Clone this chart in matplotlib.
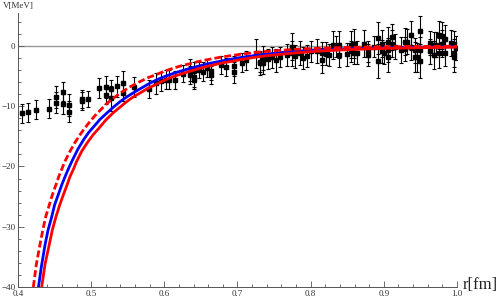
import matplotlib
matplotlib.use("Agg")
import matplotlib.pyplot as plt
from matplotlib.ticker import MultipleLocator, FormatStrFormatter

plt.rcParams['font.family'] = ['Liberation Serif', 'DejaVu Serif']

# lattice data points: r [fm], V [MeV], error [MeV]
r_data = [0.405, 0.414, 0.424, 0.443, 0.452, 0.452, 0.461, 0.461, 0.470, 0.470,
          0.487, 0.487, 0.496, 0.511, 0.520, 0.520, 0.527, 0.527, 0.535, 0.543,
          0.543, 0.558, 0.579, 0.588, 0.595, 0.602, 0.607, 0.614, 0.626, 0.635,
          0.635, 0.640, 0.640, 0.640, 0.647, 0.653, 0.659, 0.664, 0.664, 0.677,
          0.684, 0.695, 0.695, 0.706, 0.712,
          0.725, 0.731, 0.731, 0.735, 0.735, 0.742, 0.747, 0.752, 0.758, 0.768,
          0.774, 0.774, 0.779, 0.785, 0.790, 0.795, 0.800, 0.809, 0.815, 0.815,
          0.821, 0.825, 0.830, 0.834, 0.839, 0.839, 0.850, 0.855, 0.855, 0.859,
          0.859, 0.864, 0.873, 0.878, 0.878, 0.887, 0.892, 0.892, 0.897, 0.897,
          0.900, 0.906, 0.906, 0.906, 0.911, 0.911, 0.915, 0.923, 0.929, 0.929,
          0.932, 0.937, 0.937, 0.942, 0.942, 0.946, 0.950, 0.950, 0.950, 0.963,
          0.963, 0.968, 0.968, 0.971, 0.976, 0.976, 0.980, 0.980, 0.984, 0.984,
          0.992, 0.996, 0.996, 0.996, 0.998]
v_data = [-11.2, -11.0, -10.6, -10.4, -8.5, -9.4, -7.6, -9.6, -9.8, -10.9,
          -8.8, -9.2, -8.8, -7.0, -6.8, -8.1, -7.2, -8.7, -6.7, -6.1,
          -7.8, -6.8, -7.2, -6.2, -5.9, -5.6, -5.6, -5.6, -4.6, -4.0,
          -4.8, -4.1, -5.2, -5.6, -4.0, -4.3, -3.7, -4.1, -4.8, -3.2,
          -3.5, -3.3, -4.4, -2.8, -2.4,
          -1.2, -2.6, -2.9, -2.0, -2.9, -2.2, -1.9, -2.4, -1.8, -1.5,
          -0.1, -1.2, -1.7, -1.2, -2.0, -1.7, -0.9, -0.9, -1.2, -2.4,
          -1.3, -1.5, 0.2, -0.1, 0.2, -1.5, -1.4, 0.2, -0.9, 0.4,
          -1.2, -1.1, 0.4, -0.9, -1.5, -0.1, 1.3, -2.5, 0.4, -0.9,
          -1.2, 0.7, -0.7, -1.9, 1.5, 0.4, -0.1, -0.7, 0.7, -0.5,
          0.7, 1.8, -0.1, -0.7, -1.9, -1.9, 2.4, -0.7, -2.5, 0.5,
          -0.9, 0.2, -1.5, 0.2, 1.8, -1.2, 1.7, 0.4, 1.1, -1.1,
          0.5, 0.4, -1.2, -1.9, -0.4]
v_err = [1.6, 1.6, 1.6, 1.6, 1.8, 1.8, 1.6, 1.7, 1.8, 1.8,
         1.5, 1.5, 1.4, 1.7, 1.8, 1.6, 1.6, 2.1, 1.7, 1.9,
         1.4, 1.7, 1.5, 1.7, 1.6, 1.6, 1.6, 1.5, 1.4, 1.8,
         1.5, 1.5, 1.6, 1.6, 1.4, 1.6, 1.5, 1.5, 1.5, 1.5,
         1.5, 1.7, 1.7, 1.6, 1.6,
         2.4, 1.8, 1.9, 2.0, 1.8, 1.7, 1.8, 1.9, 1.7, 1.8,
         2.3, 2.1, 1.9, 2.0, 1.8, 1.8, 1.7, 2.0, 1.9, 2.1,
         1.9, 1.8, 2.3, 1.8, 2.2, 2.0, 1.9, 2.2, 1.8, 2.4,
         1.8, 1.9, 2.2, 1.8, 1.9, 1.8, 2.7, 2.8, 2.3, 1.9,
         1.8, 2.4, 2.0, 2.4, 2.2, 2.2, 2.0, 2.2, 2.2, 2.0,
         2.1, 2.4, 2.2, 2.1, 2.5, 2.4, 2.5, 2.2, 2.8, 2.0,
         2.1, 2.1, 2.3, 2.1, 2.3, 2.5, 2.2, 2.2, 2.3, 2.2,
         2.2, 2.0, 2.3, 2.4, 2.0]

# fitted potential curves
r_blue = [0.428, 0.432, 0.437, 0.441, 0.446, 0.450, 0.455, 0.460, 0.465, 0.470,
          0.475, 0.482, 0.490, 0.497, 0.505, 0.512, 0.520, 0.530, 0.540, 0.550,
          0.560, 0.570, 0.580, 0.590, 0.600, 0.615, 0.630, 0.645, 0.660, 0.680,
          0.700, 0.720, 0.740, 0.760, 0.780, 0.800, 0.820, 0.840, 0.860, 0.880,
          0.900, 0.925, 0.950, 0.975, 1.000]
v_blue = [-40.0, -36.6, -33.0, -30.6, -28.4, -26.4, -24.7, -23.0, -21.5, -20.1,
          -18.8, -17.1, -15.5, -14.3, -13.2, -12.2, -11.3, -10.2, -9.2, -8.35,
          -7.6, -6.9, -6.2, -5.6, -5.1, -4.45, -3.9, -3.4, -2.95, -2.45,
          -2.0, -1.65, -1.35, -1.1, -0.9, -0.74, -0.6, -0.5, -0.42, -0.36,
          -0.3, -0.25, -0.2, -0.16, -0.12]

r_red_dash = [0.421, 0.425, 0.430, 0.434, 0.438, 0.443, 0.447, 0.452, 0.456, 0.460,
              0.464, 0.471, 0.478, 0.485, 0.4915, 0.498, 0.505, 0.513, 0.521, 0.530,
              0.540, 0.553, 0.567, 0.578, 0.590, 0.600, 0.612, 0.623, 0.635, 0.646,
              0.658, 0.669, 0.680, 0.692, 0.703, 0.720, 0.735, 0.758, 0.780, 0.800,
              0.820, 0.840, 0.860, 0.880, 0.900, 0.925, 0.950, 0.975, 1.000]
v_red_dash = [-40.0, -36.3, -33.0, -30.5, -28.3, -26.3, -24.7, -23.0, -21.6, -20.4,
              -19.2, -17.5, -16.0, -14.7, -13.6, -12.6, -11.6, -10.6, -9.6, -8.7,
              -7.8, -6.8, -5.9, -5.25, -4.7, -4.2, -3.7, -3.3, -2.95, -2.6,
              -2.3, -2.05, -1.8, -1.6, -1.4, -1.15, -0.95, -0.74, -0.55, -0.45,
              -0.35, -0.28, -0.22, -0.18, -0.14, -0.11, -0.08, -0.06, -0.05]

r_red = [0.4324, 0.437, 0.4427, 0.447, 0.452, 0.457, 0.462, 0.467, 0.471, 0.476,
         0.480, 0.487, 0.495, 0.503, 0.511, 0.520, 0.530, 0.539, 0.548, 0.557,
         0.567, 0.578, 0.590, 0.600, 0.612, 0.623, 0.635, 0.646, 0.658, 0.669,
         0.680, 0.692, 0.703, 0.720, 0.735, 0.758, 0.780, 0.800, 0.820, 0.840,
         0.860, 0.880, 0.900, 0.925, 0.950, 0.975, 1.000]
v_red = [-40.0, -36.2, -33.0, -30.5, -28.3, -26.4, -24.7, -23.1, -21.7, -20.4,
         -19.2, -17.5, -16.0, -14.7, -13.6, -12.3, -11.1, -10.2, -9.3, -8.5,
         -7.8, -7.0, -6.3, -5.7, -5.1, -4.65, -4.2, -3.8, -3.4, -3.1,
         -2.8, -2.55, -2.3, -1.95, -1.7, -1.4, -1.15, -0.97, -0.8, -0.68,
         -0.58, -0.49, -0.42, -0.36, -0.3, -0.25, -0.2]

fig = plt.figure(figsize=(4.98, 3.01), dpi=100)
ax = fig.add_axes([0.0361, 0.0465, 0.8815, 0.911])

ax.axhline(0, color='#999999', lw=1.0, zorder=1)

eb = ax.errorbar(r_data, v_data, yerr=v_err, fmt='s', color='black', ms=2.2,
                 elinewidth=0.8, capsize=1.6, capthick=0.8, zorder=3)
for cap in eb[1]:
    cap.set_color('#777777')

ax.plot(r_blue, v_blue, color='blue', lw=2.0, zorder=4)
ax.plot(r_red, v_red, color='red', lw=2.0, zorder=5)
ax.plot(r_red_dash, v_red_dash, color='red', lw=2.0, ls=(0, (2.5, 1.1)), zorder=6)

ax.set_xlim(0.4, 1.0)
ax.set_ylim(-40, 5.5)

for s in ['top', 'right']:
    ax.spines[s].set_visible(False)
for s in ['left', 'bottom']:
    ax.spines[s].set_color('#555555')
    ax.spines[s].set_linewidth(0.7)

ax.xaxis.set_major_locator(MultipleLocator(0.1))
ax.xaxis.set_minor_locator(MultipleLocator(0.02))
ax.xaxis.set_major_formatter(FormatStrFormatter('%.1f'))
ax.yaxis.set_major_locator(MultipleLocator(10))
ax.yaxis.set_minor_locator(MultipleLocator(2))
ax.tick_params(which='both', direction='in', color='#555555', width=0.6,
               labelsize=6.5, labelcolor='#333333', pad=2)
ax.tick_params(which='major', length=4)
ax.tick_params(which='minor', length=2.2)

fig.text(3 / 498, 1 - 6 / 301, 'V[MeV]', fontsize=6.5, color='#333333',
         ha='left', va='center')
fig.text(463 / 498, 1 - 285 / 301, 'r[fm]', fontsize=12, color='#222222',
         ha='left', va='center')

fig.savefig('out.png', dpi=100)
